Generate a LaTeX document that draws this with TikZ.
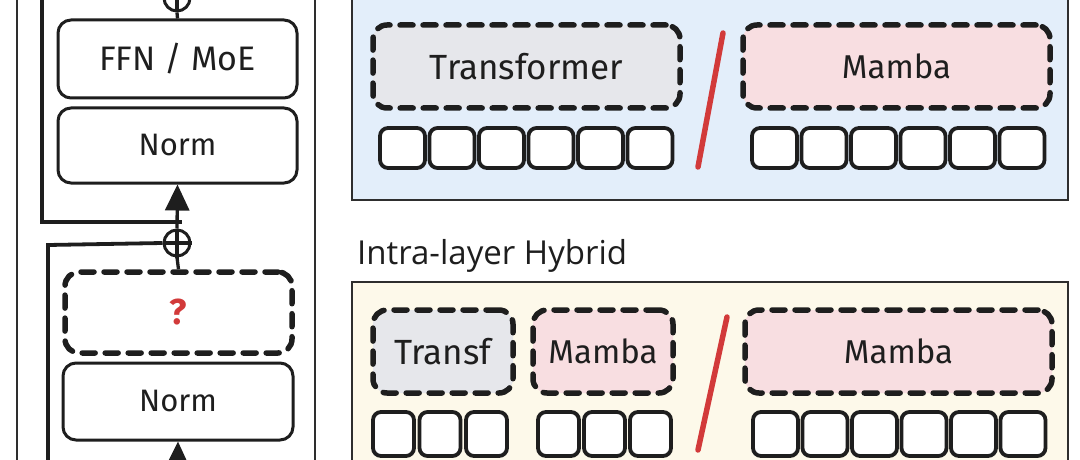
\documentclass[tikz,border=0pt]{standalone}
\usepackage{fontspec}
\setmainfont{Fira Sans}
\newfontfamily\titlefont{Open Sans}
\usetikzlibrary{arrows.meta}
\definecolor{inkc}{HTML}{1E1E1E}
\definecolor{framec}{HTML}{2E2E2E}
\definecolor{bluep}{HTML}{E3EEFA}
\definecolor{yellowp}{HTML}{FDF9EA}
\definecolor{grayf}{HTML}{E6E7EB}
\definecolor{pinkf}{HTML}{F8DEE1}
\definecolor{redc}{HTML}{D23A3A}
\tikzset{
  solidbox/.style={draw=inkc, line width=3pt, rounded corners=13pt, fill=white, inner sep=0pt,
    font=\fontsize{31}{34}\selectfont, text=inkc},
  dbox/.style={draw=inkc, line width=5.5pt, dash pattern=on 13pt off 10pt, line cap=round,
    rounded corners=14pt, inner sep=0pt, font=\fontsize{33}{36}\selectfont, text=inkc},
  tok/.style={draw=inkc, line width=3.8pt, rounded corners=8pt, fill=white, inner sep=0pt},
  plusnode/.style={draw=inkc, circle, line width=3pt, minimum size=26pt, inner sep=0pt, fill=white},
  wire/.style={draw=inkc, line width=3.3pt},
  panel/.style={draw=framec, line width=2.4pt},
  slash/.style={draw=redc, line width=5.5pt, line cap=round},
  arr/.style={wire, -{Triangle[length=26pt,width=24pt]}}
}
\begin{document}
\begin{tikzpicture}[x=1pt,y=-1pt]
\useasboundingbox (0,0) rectangle (1080,460);
\clip (0,0) rectangle (1080,460);
\fill[white] (0,0) rectangle (1080,460);
% left frame
\draw[panel] (17,-20) rectangle (315,480);
% left column nodes
\node[plusnode] (p1) at (177,-2) {};
\node[solidbox, minimum width=239pt, minimum height=78pt, font=\fontsize{34}{37}\selectfont] (ffn) at (177.5,59) {FFN / MoE};
\node[solidbox, minimum width=239pt, minimum height=75pt] (n1) at (177.5,145.5) {Norm};
\node[plusnode] (p2) at (177,243) {};
\node[dbox, minimum width=227pt, minimum height=81pt, text=redc, font=\bfseries\fontsize{36}{38}\selectfont] (q) at (178.5,312.5) {?};
\node[solidbox, minimum width=230pt, minimum height=77pt] (n2) at (178,401.5) {Norm};
\coordinate (top) at (177,-30);
\coordinate (bot) at (177,500);
\coordinate (r1a) at (42,-30);
\coordinate (r1b) at (42,222);
\coordinate (r1c) at (182,222);
\coordinate (r2a) at (48,500);
\coordinate (r2b) at (48,245);
\draw[wire] (p1.north) -- (top);
\draw[wire] (p1.south) -- (ffn.north);
\draw[wire] (p1.north) -- (p1.south) (p1.west) -- (p1.east);
\draw[arr] (p2.north) -- (n1.south);
\draw[wire] (p2.north) -- (p2.south) (p2.west) -- (p2.east);
\draw[wire] (p2.south) -- (q.north);
\draw[arr] (bot) -- (n2.south);
\draw[inkc, line width=4.5pt] (r1a) -- (r1b) -- (r1c);
\draw[inkc, line width=3.8pt] (r2a) -- (r2b) -- (p2.west);
% top panel
\draw[panel, fill=bluep] (352,-20) rectangle (1068,200);
\node[dbox, fill=grayf, minimum width=307pt, minimum height=83pt, font=\fontsize{35}{38}\selectfont] (tr) at (526.5,66.5) {Transformer};
\node[dbox, fill=pinkf, minimum width=307pt, minimum height=83pt] (mb) at (896.5,66.5) {Mamba};
\foreach \i in {0,...,5} {
  \node[tok, minimum width=45pt, minimum height=40pt] (tl\i) at ({380+22.5+\i*49.5},148) {};
  \node[tok, minimum width=45pt, minimum height=40pt] (tr\i) at ({752+22.5+\i*49.5},148) {};
}
\draw[slash] (698,167) -- (723,33);
% bottom panel
\node[anchor=west, font=\titlefont\fontsize{33}{36}\selectfont, text=inkc, inner sep=0pt] (title) at (357,256) {Intra-layer Hybrid};
\draw[panel, fill=yellowp] (352,282) rectangle (1068,480);
\node[dbox, fill=grayf, minimum width=140pt, minimum height=83pt, font=\fontsize{35}{38}\selectfont] (bt) at (443,351.5) {Transf};
\node[dbox, fill=pinkf, minimum width=140pt, minimum height=83pt] (bm) at (603,351.5) {Mamba};
\node[dbox, fill=pinkf, minimum width=307pt, minimum height=83pt] (bmb) at (898.5,351.5) {Mamba};
\foreach \i in {0,...,2} {
  \node[tok, minimum width=41pt, minimum height=44pt] (bl\i) at ({373+20.5+\i*46.5},434) {};
  \node[tok, minimum width=41pt, minimum height=44pt] (bc\i) at ({538+20.5+\i*46},434) {};
}
\foreach \i in {0,...,5} {
  \node[tok, minimum width=45pt, minimum height=44pt] (br\i) at ({753+22.5+\i*49.5},434) {};
}
\draw[slash] (698,450) -- (727,317);
\end{tikzpicture}
\end{document}
